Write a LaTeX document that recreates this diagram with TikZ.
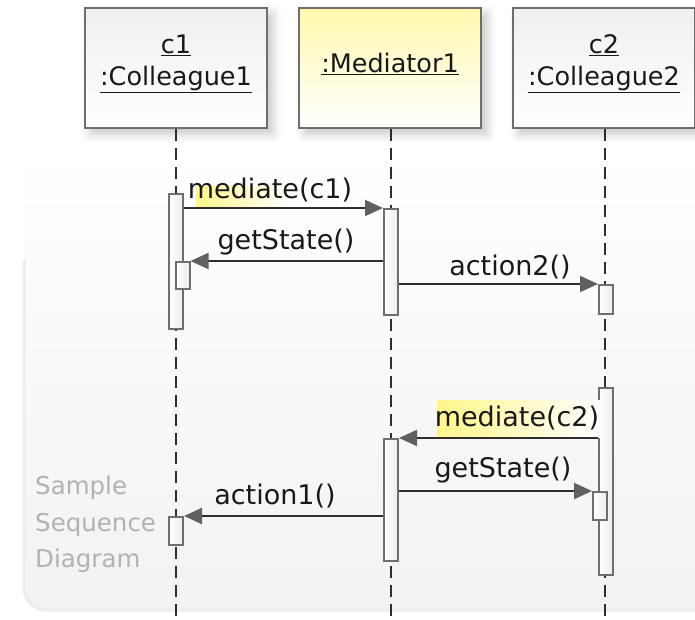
\documentclass[tikz,border=0pt]{standalone}
\usepackage{fontspec}
\setmainfont{DejaVu Sans}
\usetikzlibrary{arrows.meta,shadows.blur}
\definecolor{boxedge}{HTML}{6E6E6E}
\definecolor{lineink}{HTML}{2E2E2E}
\definecolor{tipgray}{HTML}{606060}
\definecolor{hiyellow}{HTML}{FFF68A}
\tikzset{
  objbox/.style={draw=boxedge, line width=2.5pt, minimum width=182pt, minimum height=120pt,
    top color=gray!12, bottom color=white, inner sep=0pt,
    blur shadow={shadow xshift=6pt, shadow yshift=-6pt, shadow blur radius=9pt, shadow opacity=22}},
  medbox/.style={objbox, top color=hiyellow!70, bottom color=white},
  objtext/.style={font=\fontsize{25.5}{32}\selectfont, align=center, text=black!90},
  lifeline/.style={draw=lineink, line width=2pt, dash pattern=on 12pt off 7pt},
  actbar/.style={draw=boxedge, line width=2pt, minimum width=14pt, anchor=north, inner sep=0pt,
    left color=white, right color=gray!15},
  msg/.style={draw=lineink, line width=2pt, -{Triangle[length=18pt,width=16pt,fill=tipgray,color=tipgray]}},
  msgtext/.style={font=\fontsize{27}{30}\selectfont, text=black!90, inner sep=0pt},
}
\begin{document}
\begin{tikzpicture}[x=1pt,y=-1pt]
\useasboundingbox (0,0) rectangle (695,619);
% background panel
\shade[top color=white, bottom color=gray!10, rounded corners=22pt] (24,150) rectangle (720,610);
\draw[gray!14, line width=3pt, rounded corners=22pt] (24,260) -- (24,610) -- (720,610);
% object boxes
\node[objbox] (c1) at (176,68) {};
\node[medbox] (med) at (390,68) {};
\node[objbox] (c2) at (604,68) {};
\node[objtext] (c1t) at (176,64) {\underline{c1}\\\underline{:Colleague1}};
\node[objtext] (medt) at (390,64) {\underline{:Mediator1}};
\node[objtext] (c2t) at (604,64) {\underline{c2}\\\underline{:Colleague2}};
% lifelines
\coordinate (c1end) at (176,619);
\coordinate (medend) at (391,619);
\coordinate (c2end) at (605,619);
\draw[lifeline] (c1.south -| c1end) -- (c1end);
\draw[lifeline] (med.south -| medend) -- (medend);
\draw[lifeline] (c2.south -| c2end) -- (c2end);
% activation bars
\node[actbar, minimum height=135pt] (c1A) at (176,193) {};
\node[actbar, minimum height=27pt] (c1B) at (182.5,261) {};
\node[actbar, minimum height=106pt] (medA) at (391,208) {};
\node[actbar, minimum height=29pt] (c2A) at (606,284) {};
\node[actbar, minimum height=187pt] (c2B) at (606,387) {};
\node[actbar, minimum height=122pt] (medB) at (391,438) {};
\node[actbar, minimum height=28pt] (c2C) at (600,491) {};
\node[actbar, minimum height=28pt] (c1C) at (176,516) {};
% yellow highlights
\shade[left color=hiyellow, right color=white] (196,186) rectangle (290,207);
\shade[left color=hiyellow, right color=white] (437,400) rectangle (600,437);
% messages
\draw[msg] (c1A.east |- 0,208) -- (medA.north west);
\node[msgtext] (l1) at (270,190) {mediate(c1)};
\draw[msg] (medA.west |- c1B.north) -- (c1B.north east);
\node[msgtext] (l2) at (286,242) {getState()};
\draw[msg] (medA.east |- c2A.north) -- (c2A.north west);
\node[msgtext] (l3) at (510,267) {action2()};
\draw[msg] (c2B.west |- medB.north) -- (medB.north east);
\node[msgtext] (l4) at (517,418) {mediate(c2)};
\draw[msg] (medB.east |- c2C.north) -- (c2C.north west);
\node[msgtext] (l5) at (503,470) {getState()};
\draw[msg] (medB.west |- c1C.north) -- (c1C.north east);
\node[msgtext] (l6) at (275,496) {action1()};
% caption
\node[font=\fontsize{24.5}{36.5}\selectfont, text=gray!60, align=left, anchor=north west, inner sep=0pt] (cap) at (35,476) {Sample\\Sequence\\Diagram};
\end{tikzpicture}
\end{document}
